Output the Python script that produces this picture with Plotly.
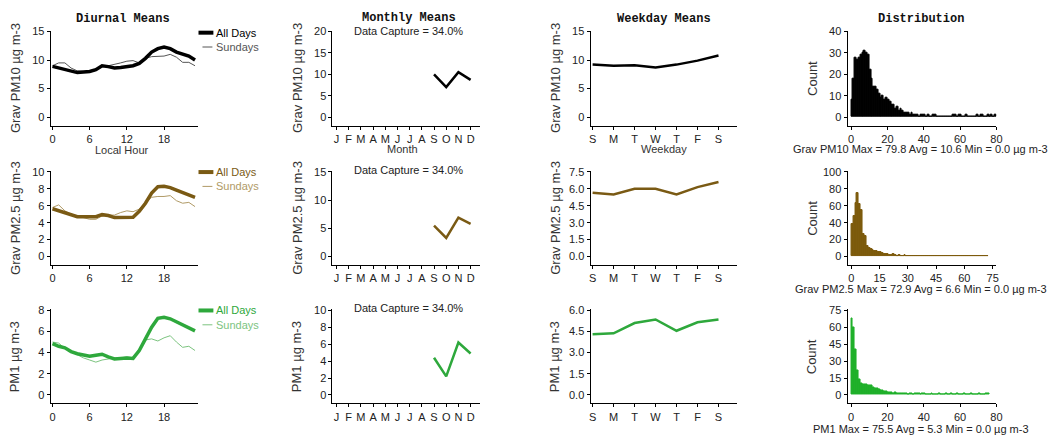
import plotly.graph_objects as go

# ---------------- data ----------------
hours = list(range(24))
pm10_all = [8.9, 8.6, 8.3, 8.0, 7.8, 7.9, 8.0, 8.3, 9.0, 8.85, 8.6, 8.7,
            8.85, 9.0, 9.4, 10.3, 11.4, 12.0, 12.3, 12.0, 11.4, 11.0, 10.7, 10.0]
pm10_sun = [9.0, 9.5, 9.5, 8.6, 8.1, 8.0, 7.9, 8.2, 9.0, 9.0, 9.2, 9.5,
            9.8, 9.9, 9.5, 10.3, 10.6, 10.7, 10.7, 11.0, 10.5, 9.6, 9.6, 9.0]
pm25_all = [5.65, 5.4, 5.15, 4.9, 4.7, 4.7, 4.65, 4.7, 4.95, 4.85, 4.6, 4.65,
            4.7, 4.65, 5.35, 6.3, 7.5, 8.25, 8.3, 8.15, 7.85, 7.6, 7.3, 7.0]
pm25_sun = [5.8, 6.1, 5.4, 5.0, 4.8, 4.6, 4.4, 4.4, 4.8, 4.9, 4.9, 5.2,
            5.4, 5.3, 5.6, 6.4, 7.0, 7.1, 7.1, 7.2, 6.6, 6.3, 6.4, 5.9]
pm1_all = [4.85, 4.6, 4.45, 4.1, 3.9, 3.75, 3.65, 3.75, 3.85, 3.6, 3.4, 3.45,
           3.5, 3.45, 4.2, 5.3, 6.4, 7.25, 7.35, 7.2, 6.9, 6.6, 6.3, 6.05]
pm1_sun = [5.0, 4.9, 4.4, 4.1, 3.8, 3.5, 3.3, 3.1, 3.3, 3.4, 3.5, 3.5,
           3.6, 3.5, 4.3, 5.2, 5.3, 5.1, 5.4, 5.6, 5.0, 4.5, 4.6, 4.2]

month_labels = ["J", "F", "M", "A", "M", "J", "J", "A", "S", "O", "N", "D"]
month_num = list(range(1, 13))
pm10_month = [None] * 8 + [10.0, 7.0, 10.5, 8.7]
pm25_month = [None] * 8 + [5.5, 3.3, 6.9, 5.8]
pm1_month = [None] * 8 + [4.4, 2.2, 6.2, 4.9]

weekday_labels = ["S", "M", "T", "W", "T", "F", "S"]
weekday_num = list(range(7))
pm10_week = [9.2, 9.0, 9.1, 8.7, 9.2, 9.9, 10.8]
pm25_week = [5.65, 5.5, 6.0, 6.0, 5.5, 6.15, 6.6]
pm1_week = [4.3, 4.37, 5.1, 5.35, 4.55, 5.15, 5.35]

pm10_hist = [8, 18, 28, 27, 28, 29, 30, 31, 30, 29, 22, 18, 14, 14, 13, 11, 9, 10, 8, 9,
             8, 7, 6, 6, 4, 5, 3, 4, 3, 2, 2, 2, 1, 2, 1, 1, 1, 0, 1, 1,
             1, 0, 1, 0, 0, 1, 1, 0, 0, 0, 0, 0, 0, 0, 0, 0, 1, 1, 0, 1,
             1, 0, 0, 1, 0, 0, 0, 0, 0, 1, 0, 1, 1, 0, 0, 1, 0, 1, 0, 1]
pm25_hist = [38, 48, 63, 75, 62, 55, 26, 24, 12, 10, 9, 8, 7, 6, 5, 5, 4, 3, 3, 3,
             2, 2, 3, 2, 1, 2, 1, 1, 2, 1, 1, 1, 1, 1, 0, 1, 1, 0, 1, 1,
             1, 0, 0, 1, 0, 0, 0, 0, 0, 0, 1, 0, 1, 0, 1, 0, 0, 0, 0, 0,
             0, 0, 1, 0, 0, 0, 1, 1, 0, 0, 0, 0, 1]
pm1_hist = [68, 60, 40, 22, 14, 10, 9, 9, 9, 8, 8, 8, 7, 6, 6, 5, 4, 4, 3, 3,
            2, 2, 2, 1, 2, 1, 1, 1, 1, 1, 1, 0, 1, 1, 0, 1, 1, 1, 0, 1,
            1, 0, 0, 0, 1, 0, 0, 0, 1, 0, 0, 0, 1, 0, 0, 1, 0, 0, 1, 0,
            0, 0, 1, 0, 0, 0, 1, 0, 0, 0, 1, 0, 0, 0, 1, 1]

var_titles = ["Grav PM10 \u00b5g m-3", "Grav PM2.5 \u00b5g m-3", "PM1 \u00b5g m-3"]
hist_titles = ["Grav PM10 Max = 79.8 Avg = 10.6 Min = 0.0 \u00b5g m-3",
               "Grav PM2.5 Max = 72.9 Avg = 6.6 Min = 0.0 \u00b5g m-3",
               "PM1 Max = 75.5 Avg = 5.3 Min = 0.0 \u00b5g m-3"]
panel_titles = ["Diurnal Means", "Monthly Means", "Weekday Means", "Distribution"]
capture_text = "Data Capture = 34.0%"

# ---------------- styling ----------------
W, H = 1056, 437
main_col = ["#000000", "#7a5a14", "#2ea83c"]
sun_col = ["#555555", "#b09a66", "#7cc47f"]
hist_col = ["#000000", "#7d5a0c", "#1fb02a"]

diurnal_top = [15, 10, 8]
diurnal_dt = [5, 2, 2]
month_top = [20, 15, 10]
month_dt = [5, 5, 2]
week_top = [15, 7.5, 6.0]
week_dt = [5, 1.5, 1.5]
hist_top = [40, 100, 75]
hist_dt = [10, 20, 15]
hist_xdt = [20, 15, 20]
hist_xmax = [80, 77, 80]

col_x = [(49, 197), (333, 482), (593, 741), (852, 1002)]
row_y = [(26, 122), (168, 263), (308, 403)]

TXT = "Liberation Sans, Arial, sans-serif"
MONO = "Liberation Mono, Courier New, monospace"

def px_x(p):
    return p / W

def px_y(p):
    return 1 - p / H

fig = go.Figure()
axes = {}

def ax_common():
    return dict(showline=True, linecolor="black", linewidth=1, ticks="outside",
                ticklen=3, tickcolor="black", showgrid=False, zeroline=False,
                tickfont=dict(family=TXT, size=11, color="#222"))

annotations = []
shapes = []

def ann(text, x, y, size=11, color="#222", family=TXT, angle=0, bold=False):
    annotations.append(dict(text=("<b>%s</b>" % text) if bold else text,
                            x=px_x(x), y=px_y(y), xref="paper", yref="paper",
                            showarrow=False, textangle=angle,
                            font=dict(family=family, size=size, color=color),
                            xanchor="center", yanchor="middle"))

for r in range(3):
    for c in range(4):
        k = r * 4 + c + 1
        xs = "" if k == 1 else str(k)
        xa = ax_common()
        ya = ax_common()
        xa["domain"] = [px_x(col_x[c][0]), px_x(col_x[c][1])]
        ya["domain"] = [px_y(row_y[r][1]), px_y(row_y[r][0])]
        xa["anchor"] = "y" + xs
        ya["anchor"] = "x" + xs
        if c == 0:
            T = diurnal_top[r]
            ya.update(range=[-0.1 * T, 1.01 * T], dtick=diurnal_dt[r], tick0=0)
            xa.update(range=[-0.3, 23.4], tickvals=[0, 6, 12, 18])
            allv = [pm10_all, pm25_all, pm1_all][r]
            sunv = [pm10_sun, pm25_sun, pm1_sun][r]
            fig.add_trace(go.Scatter(x=hours, y=sunv, mode="lines",
                                     line=dict(color=sun_col[r], width=1),
                                     xaxis="x" + xs, yaxis="y" + xs, showlegend=False))
            fig.add_trace(go.Scatter(x=hours, y=allv, mode="lines",
                                     line=dict(color=main_col[r], width=3.5),
                                     xaxis="x" + xs, yaxis="y" + xs, showlegend=False))
        elif c == 1:
            T = month_top[r]
            ya.update(range=[-0.1 * T, 1.01 * T], dtick=month_dt[r], tick0=0)
            xa.update(range=[0.67, 12.8], tickvals=month_num, ticktext=month_labels)
            mv = [pm10_month, pm25_month, pm1_month][r]
            fig.add_trace(go.Scatter(x=month_num, y=mv, mode="lines",
                                     line=dict(color=main_col[r], width=2.5),
                                     xaxis="x" + xs, yaxis="y" + xs, showlegend=False))
        elif c == 2:
            T = week_top[r]
            ya.update(range=[-0.1 * T, 1.01 * T], dtick=week_dt[r], tick0=0)
            if r > 0:
                ya["tickformat"] = ".1f"
            xa.update(range=[-0.1, 6.9], tickvals=weekday_num, ticktext=weekday_labels)
            wv = [pm10_week, pm25_week, pm1_week][r]
            fig.add_trace(go.Scatter(x=weekday_num, y=wv, mode="lines",
                                     line=dict(color=main_col[r], width=2.5),
                                     xaxis="x" + xs, yaxis="y" + xs, showlegend=False))
        else:
            T = hist_top[r]
            ya.update(range=[-0.1 * T, 1.01 * T], dtick=hist_dt[r], tick0=0)
            xa.update(range=[-2, hist_xmax[r]], dtick=hist_xdt[r], tick0=0)
            hv = [pm10_hist, pm25_hist, pm1_hist][r]
            centers = [i + 0.5 for i in range(len(hv))]
            fig.add_trace(go.Bar(x=centers, y=hv, width=1.0,
                                 marker=dict(color=hist_col[r], line=dict(width=1, color=hist_col[r])),
                                 xaxis="x" + xs, yaxis="y" + xs, showlegend=False))
        axes["xaxis" + xs] = xa
        axes["yaxis" + xs] = ya

        # y-axis titles
        yt = "Count" if c == 3 else var_titles[r]
        ycen = (row_y[r][0] + row_y[r][1]) / 2
        ann(yt, col_x[c][0] - 36, ycen, size=13, color="#333", angle=-90)

    # data capture labels
    ann(capture_text, 410, [26, 167, 307][r], size=11, color="#222")
    # histogram x titles
    ann(hist_titles[r], 926, [146, 287, 429][r], size=11, color="#222")
    # legends (diurnal)
    ly1 = [28, 169, 309][r]
    ly2 = ly1 + 14.5
    shapes.append(dict(type="line", xref="paper", yref="paper",
                       x0=px_x(198), x1=px_x(213), y0=px_y(ly1), y1=px_y(ly1),
                       line=dict(color=main_col[r], width=4)))
    shapes.append(dict(type="line", xref="paper", yref="paper",
                       x0=px_x(202), x1=px_x(212), y0=px_y(ly2), y1=px_y(ly2),
                       line=dict(color=sun_col[r], width=1)))
    annotations.append(dict(text="All Days", x=px_x(214), y=px_y(ly1), xref="paper", yref="paper",
                            showarrow=False, xanchor="left", yanchor="middle",
                            font=dict(family=TXT, size=11, color=main_col[r])))
    annotations.append(dict(text="Sundays", x=px_x(214), y=px_y(ly2), xref="paper", yref="paper",
                            showarrow=False, xanchor="left", yanchor="middle",
                            font=dict(family=TXT, size=11, color=sun_col[r])))

# panel titles
for txt, x, y in zip(panel_titles, [122, 410, 667, 926], [14, 13, 14, 14]):
    ann(txt, x, y, size=12, color="#111", family=MONO, bold=True)
# x titles on top row
ann("Local Hour", 121, 147, size=11, color="#333")
ann("Month", 404, 146, size=11, color="#333")
ann("Weekday", 667, 146, size=11, color="#333")

fig.update_layout(width=W, height=H, margin=dict(l=0, r=0, t=0, b=0),
                  paper_bgcolor="white", plot_bgcolor="white",
                  bargap=0, annotations=annotations, shapes=shapes, **axes)
fig.write_html("out.html", config={"displayModeBar": False},
               post_script="document.body.style.margin='0';document.body.style.padding='0';"
                           "document.documentElement.style.overflow='hidden';")
